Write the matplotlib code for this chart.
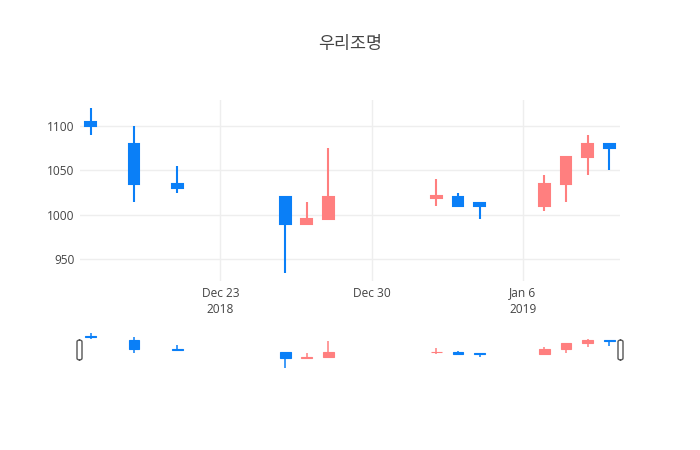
import datetime as dt
import matplotlib
matplotlib.use('Agg')
import matplotlib.pyplot as plt
import matplotlib.dates as mdates
from matplotlib.patches import FancyBboxPatch

# candle data
dates = ['2018-12-17', '2018-12-19', '2018-12-21', '2018-12-26', '2018-12-27', '2018-12-28',
         '2019-01-02', '2019-01-03', '2019-01-04', '2019-01-07', '2019-01-08', '2019-01-09',
         '2019-01-10']
opens = [1105, 1080, 1035, 1020, 990, 995, 1019, 1020, 1013, 1010, 1035, 1065, 1080]
highs = [1120, 1100, 1055, 1020, 1015, 1075, 1040, 1025, 1015, 1045, 1065, 1090, 1080]
lows = [1090, 1015, 1025, 935, 990, 995, 1010, 1010, 995, 1005, 1015, 1045, 1050]
closes = [1100, 1035, 1030, 990, 995, 1020, 1021, 1010, 1010, 1035, 1065, 1080, 1075]

title = '우리조명'
x_tick_dates = ['2018-12-23', '2018-12-30', '2019-01-06']
x_tick_labels = ['Dec 23\n2018', 'Dec 30', 'Jan 6\n2019']
y_ticks = [950, 1000, 1050, 1100]

UP = '#ff7f7f'
DOWN = '#0a7ff7'
TEXT = '#444444'
GRID = '#eeeeee'

plt.rcParams['font.family'] = ['Open Sans', 'DejaVu Sans']

x = [mdates.date2num(dt.date.fromisoformat(d)) for d in dates]
colors = [UP if c >= o else DOWN for o, c in zip(opens, closes)]

x_lo = x[0] - 0.5
x_hi = x[-1] + 0.5
span = max(highs) - min(lows)
y_lo = min(lows) - 0.05 * span
y_hi = max(highs) + 0.05 * span


def draw_candles(ax, wick_lw, edge_lw):
    ax.vlines(x, lows, highs, colors=colors, linewidth=wick_lw, zorder=3)
    bottoms = [min(o, c) for o, c in zip(opens, closes)]
    heights = [abs(c - o) for o, c in zip(opens, closes)]
    ax.bar(x, heights, bottom=bottoms, width=0.5, color=colors,
           edgecolor=colors, linewidth=edge_lw, zorder=4)


fig = plt.figure(figsize=(7, 4.5), dpi=100)

ax = fig.add_axes([80 / 700, 1 - 281 / 450, 540 / 700, 181 / 450])
draw_candles(ax, 1.5, 1.5)
ax.set_xlim(x_lo, x_hi)
ax.set_ylim(y_lo, y_hi)
ax.set_xticks([mdates.date2num(dt.date.fromisoformat(d)) for d in x_tick_dates])
ax.set_xticklabels(x_tick_labels, linespacing=1.35)
ax.set_yticks(y_ticks)
ax.tick_params(length=0, labelsize=8.6, colors=TEXT, pad=4)
ax.grid(True, color=GRID, linewidth=1)
ax.set_axisbelow(True)
for s in ax.spines.values():
    s.set_visible(False)

# range slider
sl = fig.add_axes([80 / 700, 1 - 370 / 450, 540 / 700, 39 / 450])
draw_candles(sl, 1.1, 0.8)
sl.set_xlim(x_lo, x_hi)
sl.set_ylim(y_lo, y_hi)
sl.set_xticks([])
sl.set_yticks([])
for s in sl.spines.values():
    s.set_visible(False)

for px in [79.5, 620.5]:
    handle = FancyBboxPatch(((px - 2.5) / 700, 1 - 360 / 450), 5 / 700, 20 / 450,
                            boxstyle='round,pad=0,rounding_size=0.004',
                            transform=fig.transFigure, facecolor='white',
                            edgecolor='#555555', linewidth=1.0)
    fig.add_artist(handle)

fig.text(0.5, 1 - 44 / 450, title, ha='center', va='center', fontsize=12.5,
         color=TEXT, family=['Noto Sans CJK KR', 'DejaVu Sans'])

fig.savefig('out.png', dpi=100)
